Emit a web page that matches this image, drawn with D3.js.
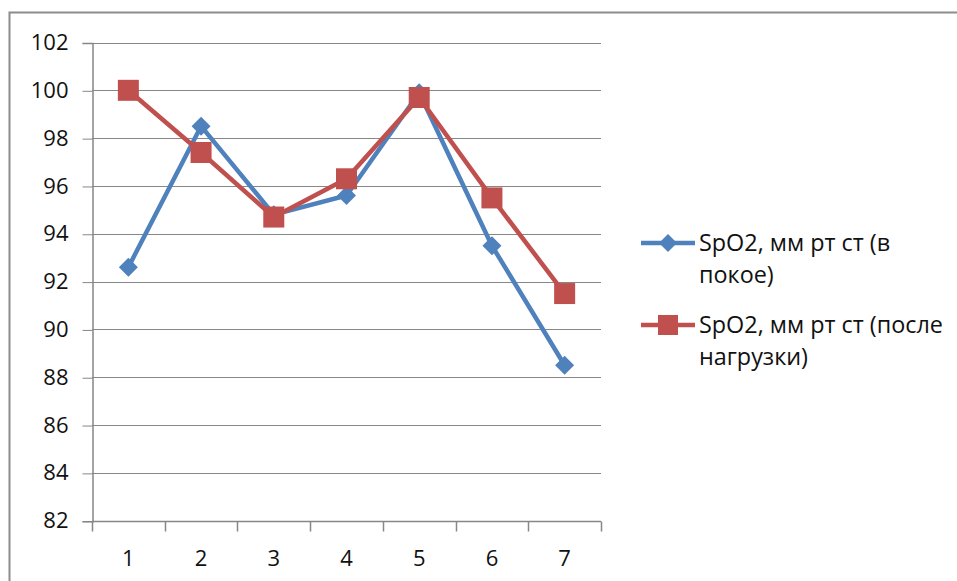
<!DOCTYPE html>
<html>
<head>
<meta charset="utf-8">
<script src="https://cdn.jsdelivr.net/npm/d3@7"></script>
<style>
  html, body { margin: 0; padding: 0; background: #fff; }
  svg { display: block; }
</style>
</head>
<body>
<svg id="chart" width="957" height="581"></svg>
<script>
// Measurement points and SpO2 readings
const categories = ["1", "2", "3", "4", "5", "6", "7"];
const restValues = [92.6, 98.5, 94.8, 95.6, 99.9, 93.5, 88.5];
const loadValues = [100.0, 97.4, 94.7, 96.3, 99.7, 95.5, 91.5];
const yTicks = [82, 84, 86, 88, 90, 92, 94, 96, 98, 100, 102];
const seriesNames = ["SpO2, мм рт ст (в покое)", "SpO2, мм рт ст (после нагрузки)"];
const legendLines = [["SpO2, мм рт ст (в", "покое)"], ["SpO2, мм рт ст (после", "нагрузки)"]];

const blue = "#4F81BD", red = "#C0504D", grid = "#878787";
const font = "'Open Sans', sans-serif";

const svg = d3.select("#chart");
const plot = { left: 92, right: 601, top: 42.5, bottom: 520.7 };

// outer frame (top and left edges)
svg.append("path")
  .attr("d", `M9.5,581 V12.5 H957`)
  .attr("fill", "none").attr("stroke", "#8c8c8c").attr("stroke-width", 2);

const x = d3.scaleBand().domain(categories).range([plot.left, plot.right]).padding(0);
const y = d3.scaleLinear().domain([82, 102]).range([plot.bottom, plot.top]);

// horizontal gridlines
svg.append("g").selectAll("line").data(yTicks).join("line")
  .attr("x1", plot.left).attr("x2", plot.right)
  .attr("y1", d => Math.round(y(d)) + 0.5).attr("y2", d => Math.round(y(d)) + 0.5)
  .attr("stroke", grid).attr("stroke-width", 1);

// y axis
const yAxis = svg.append("g")
  .attr("transform", `translate(${plot.left + 0.5},0.5)`)
  .call(d3.axisLeft(y).tickValues(yTicks).tickSize(10).tickPadding(14).tickFormat(d3.format("d")));
yAxis.select(".domain").attr("stroke", grid).attr("stroke-width", 1.5);
yAxis.selectAll(".tick line").attr("stroke", grid);
yAxis.selectAll(".tick text").attr("font-family", font).attr("font-size", 22).attr("fill", "#111")
  .attr("dy", "0.3em");

// x axis with tick marks on category boundaries
const xAxis = svg.append("g").attr("transform", `translate(0,${Math.round(plot.bottom) + 0.5})`);
xAxis.append("line").attr("x1", plot.left).attr("x2", plot.right).attr("stroke", grid).attr("stroke-width", 1.5);
const bounds = categories.map(c => x(c)).concat([x(categories[categories.length - 1]) + x.bandwidth()]);
xAxis.selectAll("line.tk").data(bounds).join("line").attr("class", "tk")
  .attr("x1", d => Math.round(d) + 0.5).attr("x2", d => Math.round(d) + 0.5)
  .attr("y1", 0).attr("y2", 10).attr("stroke", grid).attr("stroke-width", 1.5);
xAxis.selectAll("text").data(categories).join("text")
  .attr("x", d => x(d) + x.bandwidth() / 2).attr("y", 44)
  .attr("text-anchor", "middle").attr("font-family", font).attr("font-size", 22).attr("fill", "#111")
  .text(d => d);

const cx = (d, i) => x(categories[i]) + x.bandwidth() / 2;
const line = d3.line().x((d, i) => cx(d, i)).y(d => y(d));

function drawSeries(values, color, shape) {
  const g = svg.append("g");
  g.append("path").datum(values).attr("d", line)
    .attr("fill", "none").attr("stroke", color).attr("stroke-width", 4.5).attr("stroke-linejoin", "round");
  if (shape === "diamond") {
    g.selectAll("path.m").data(values).join("path").attr("class", "m")
      .attr("d", (d, i) => { const px = cx(d, i), py = y(d), s = 9.5;
        return `M${px},${py - s}L${px + s},${py}L${px},${py + s}L${px - s},${py}Z`; })
      .attr("fill", color);
  } else {
    g.selectAll("rect.m").data(values).join("rect").attr("class", "m")
      .attr("x", (d, i) => cx(d, i) - 10.5).attr("y", d => y(d) - 10.5)
      .attr("width", 21).attr("height", 21).attr("fill", color);
  }
}
drawSeries(restValues, blue, "diamond");
drawSeries(loadValues, red, "square");

// legend
const legendY = [243, 325];
const colors = [blue, red];
const legendTexts = [];
legendLines.forEach((lines, k) => {
  const g = svg.append("g").attr("transform", `translate(0,${legendY[k]})`);
  g.append("line").attr("x1", 641).attr("x2", 695).attr("y1", 0).attr("y2", 0)
    .attr("stroke", colors[k]).attr("stroke-width", 4.5);
  if (k === 0) {
    g.append("path").attr("d", "M668,-9L677,0L668,9L659,0Z").attr("fill", colors[k]);
  } else {
    g.append("rect").attr("x", 658).attr("y", -10).attr("width", 20).attr("height", 20).attr("fill", colors[k]);
  }
  const t = g.append("text").attr("font-family", font).attr("font-size", 22).attr("fill", "#111")
    .attr("aria-label", seriesNames[k]);
  lines.forEach((s, j) => t.append("tspan").attr("x", 699).attr("y", 8 + j * 32).text(s));
  legendTexts.push(t);
});
// size the legend font so the longest line spans ~244px
const longest = legendTexts[1].select("tspan").node().getComputedTextLength();
const fs = 22 * 244 / longest;
legendTexts.forEach(t => t.attr("font-size", fs));
</script>
</body>
</html>
